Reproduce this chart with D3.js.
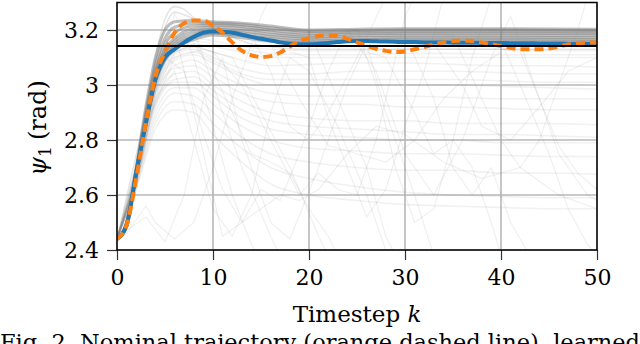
<!DOCTYPE html>
<html>
<head>
<meta charset="utf-8">
<script src="https://cdn.jsdelivr.net/npm/d3@7"></script>
<style>
  body { margin: 0; background: #fff; }
  text { font-family: "DejaVu Serif", "Liberation Serif", serif; fill: #000; }
</style>
</head>
<body>
<div id="chart"></div>
<script>
var svgWidth = 640;
var svgHeight = 344;

var margin = { top: 2.5, right: 43, bottom: 94, left: 117 };
var width = svgWidth - margin.left - margin.right;
var height = svgHeight - margin.top - margin.bottom;

// nominal trajectory (orange dashed) and learned mean (blue), k = 0..50
var nominal = [2.44, 2.49, 2.66, 2.86, 3.03, 3.12, 3.19, 3.225, 3.235, 3.235,
  3.215, 3.19, 3.155, 3.125, 3.108, 3.102, 3.105, 3.118, 3.14, 3.16,
  3.17, 3.178, 3.18, 3.178, 3.168, 3.155, 3.143, 3.132, 3.124, 3.12,
  3.122, 3.13, 3.138, 3.148, 3.155, 3.16, 3.162, 3.16, 3.155, 3.148,
  3.142, 3.135, 3.13, 3.13, 3.13, 3.133, 3.14, 3.147, 3.152, 3.154, 3.155];

var learned = [2.44, 2.49, 2.68, 2.86, 3.02, 3.10, 3.13, 3.155, 3.175, 3.19,
  3.195, 3.193, 3.19, 3.183, 3.175, 3.168, 3.162, 3.155, 3.15, 3.148,
  3.148, 3.15, 3.153, 3.156, 3.159, 3.16, 3.16, 3.159, 3.158, 3.157,
  3.156, 3.156, 3.155, 3.155, 3.155, 3.154, 3.154, 3.154, 3.153, 3.153,
  3.153, 3.152, 3.152, 3.152, 3.151, 3.151, 3.151, 3.15, 3.15, 3.15, 3.15];

var reference = Math.PI;

// dense band of sampled trajectories
var bandK = [0, 1, 2, 3, 4, 5, 6, 8, 10, 13, 16, 20, 25, 30, 40, 50];
var bandRuns = [
  [2.44, 2.50, 2.70, 2.92, 3.10, 3.20, 3.23, 3.235, 3.23, 3.225, 3.215, 3.2, 3.203, 3.205, 3.205, 3.203],
  [2.44, 2.50, 2.69, 2.90, 3.07, 3.17, 3.21, 3.225, 3.225, 3.22, 3.208, 3.195, 3.198, 3.2, 3.2, 3.198],
  [2.44, 2.50, 2.69, 2.89, 3.05, 3.15, 3.19, 3.215, 3.218, 3.213, 3.2, 3.188, 3.192, 3.194, 3.194, 3.192],
  [2.44, 2.49, 2.68, 2.88, 3.04, 3.13, 3.17, 3.205, 3.21, 3.205, 3.192, 3.181, 3.186, 3.188, 3.188, 3.186],
  [2.44, 2.49, 2.68, 2.87, 3.03, 3.12, 3.16, 3.195, 3.203, 3.197, 3.184, 3.174, 3.179, 3.181, 3.181, 3.179],
  [2.44, 2.49, 2.67, 2.86, 3.02, 3.11, 3.15, 3.185, 3.196, 3.189, 3.176, 3.167, 3.172, 3.174, 3.174, 3.172],
  [2.44, 2.49, 2.67, 2.86, 3.02, 3.10, 3.14, 3.175, 3.189, 3.18, 3.168, 3.16, 3.165, 3.167, 3.167, 3.165],
  [2.44, 2.49, 2.67, 2.85, 3.01, 3.09, 3.13, 3.165, 3.182, 3.172, 3.16, 3.155, 3.159, 3.161, 3.161, 3.159]
];

// overshooting runs that peak near k = 6
var spikeRuns = [
  [[0, 2.44], [2, 2.7], [4, 3.1], [5, 3.24], [6, 3.285], [7, 3.275], [8, 3.245], [10, 3.22], [13, 3.215], [16, 3.205], [20, 3.195], [30, 3.2], [50, 3.2]],
  [[0, 2.44], [2, 2.7], [4, 3.08], [5, 3.21], [6, 3.265], [7, 3.255], [9, 3.22], [11, 3.19], [14, 3.15], [20, 3.13], [50, 3.13]]
];

// light fan of slower runs, k at fanK
var fanK = [0, 2, 4, 6, 8, 10, 13, 16, 20, 25, 30, 35, 40, 45, 50];
var fanRuns = [
  [2.44, 2.68, 3.02, 3.15, 3.17, 3.16, 3.14, 3.13, 3.125, 3.125, 3.13, 3.13, 3.13, 3.125, 3.125],
  [2.44, 2.68, 3.01, 3.14, 3.16, 3.15, 3.13, 3.115, 3.11, 3.11, 3.115, 3.115, 3.11, 3.11, 3.11],
  [2.44, 2.68, 3.0, 3.13, 3.15, 3.14, 3.12, 3.1, 3.1, 3.1, 3.1, 3.1, 3.1, 3.1, 3.1],
  [2.44, 2.67, 2.99, 3.12, 3.14, 3.12, 3.09, 3.07, 3.075, 3.08, 3.08, 3.075, 3.07, 3.07, 3.065],
  [2.44, 2.67, 2.98, 3.11, 3.13, 3.1, 3.06, 3.04, 3.04, 3.05, 3.05, 3.05, 3.045, 3.04, 3.04],
  [2.44, 2.67, 2.98, 3.1, 3.12, 3.09, 3.04, 3.02, 3.02, 3.02, 3.02, 3.02, 3.015, 3.01, 3.01],
  [2.44, 2.66, 2.97, 3.09, 3.11, 3.08, 3.03, 3.0, 3.0, 3.0, 3.0, 3.0, 2.995, 2.99, 2.985],
  [2.44, 2.66, 2.96, 3.07, 3.09, 3.05, 3.0, 2.97, 2.96, 2.96, 2.96, 2.955, 2.95, 2.95, 2.95],
  [2.44, 2.66, 2.95, 3.06, 3.07, 3.03, 2.97, 2.94, 2.93, 2.93, 2.92, 2.92, 2.915, 2.91, 2.91],
  [2.44, 2.65, 2.94, 3.04, 3.05, 3.0, 2.94, 2.9, 2.88, 2.87, 2.87, 2.86, 2.86, 2.86, 2.855],
  [2.44, 2.65, 2.93, 3.02, 3.03, 2.98, 2.91, 2.87, 2.85, 2.84, 2.83, 2.82, 2.82, 2.815, 2.81],
  [2.44, 2.65, 2.92, 3.01, 3.01, 2.96, 2.88, 2.84, 2.82, 2.81, 2.8, 2.8, 2.79, 2.79, 2.79],
  [2.44, 2.64, 2.9, 2.99, 2.99, 2.93, 2.85, 2.8, 2.77, 2.76, 2.75, 2.75, 2.745, 2.74, 2.74],
  [2.44, 2.64, 2.88, 2.97, 2.96, 2.9, 2.81, 2.75, 2.72, 2.7, 2.69, 2.69, 2.68, 2.68, 2.675],
  [2.44, 2.63, 2.86, 2.94, 2.93, 2.86, 2.77, 2.7, 2.66, 2.63, 2.61, 2.6, 2.595, 2.59, 2.59],
  [2.44, 2.62, 2.84, 2.91, 2.9, 2.82, 2.72, 2.64, 2.6, 2.58, 2.565, 2.56, 2.555, 2.55, 2.55]
];

// erratic runs, [k, value] pairs
var zigzagRuns = [
  [[0, 2.44], [2, 2.62], [4, 2.98], [6, 3.26], [8, 3.1], [10, 2.85], [12, 2.6], [14, 2.42], [15, 2.36]],
  [[0, 2.44], [1, 2.47], [3, 2.52], [5, 2.43], [7, 2.6], [9, 2.95], [11, 3.1], [13, 2.8], [16, 2.5], [18, 2.44], [21, 2.7], [24, 3.0], [26, 3.15], [28, 2.9], [31, 2.6], [33, 2.38]],
  [[0, 2.44], [2, 2.7], [4, 3.05], [6, 3.2], [8, 2.9], [10, 2.6], [11, 2.45], [13, 2.5], [15, 2.62], [17, 2.58], [19, 2.75], [22, 3.05], [24, 3.2], [27, 3.05], [30, 2.75], [33, 2.6], [36, 2.8], [39, 3.1], [41, 3.25], [43, 3.05], [46, 2.75], [49, 2.6], [50, 2.58]],
  [[0, 2.44], [3, 2.9], [5, 3.15], [7, 3.22], [8, 3.2], [10, 3.0], [13, 2.7], [16, 2.45], [17, 2.38]],
  [[0, 2.44], [3, 2.85], [5, 3.1], [8, 3.15], [10, 3.05], [12, 2.9], [14, 2.75], [16, 2.72], [18, 2.68], [20, 2.55], [22, 2.45], [23, 2.38]],
  [[0, 2.44], [3, 2.9], [6, 3.12], [8, 3.14], [10, 3.12], [13, 3.0], [16, 2.8], [19, 2.6], [21, 2.68], [23, 2.62], [25, 2.6], [27, 2.8], [29, 3.1], [30, 3.25], [31, 3.32]],
  [[0, 2.44], [3, 2.85], [6, 3.1], [9, 3.13], [12, 3.1], [15, 2.9], [18, 2.7], [21, 2.45], [22, 2.38]],
  [[18, 3.19], [20, 3.2], [23, 2.95], [26, 2.7], [28, 2.45], [29, 2.38]],
  [[23, 3.19], [25, 3.2], [27, 3.0], [29, 2.7], [31, 2.5], [33, 2.55], [35, 2.8], [37, 3.1], [39, 3.32]],
  [[28, 3.19], [30, 3.18], [33, 2.95], [35, 2.7], [37, 2.6], [39, 2.7], [41, 2.5], [43, 2.38]],
  [[33, 3.19], [35, 3.18], [38, 2.95], [40, 2.8], [42, 2.7], [44, 2.8], [46, 3.0], [48, 3.2], [49, 3.32]],
  [[38, 3.16], [40, 3.16], [42, 3.0], [45, 2.75], [47, 2.55], [49, 2.42], [50, 2.38]],
  [[12, 3.2], [14, 3.18], [16, 3.05], [18, 2.85], [20, 2.8], [22, 2.9], [25, 3.1], [28, 3.32]],
  [[18, 3.12], [20, 3.1], [22, 2.88], [24, 2.7], [26, 2.52], [28, 2.62], [30, 2.85], [32, 3.05], [34, 3.32]],
  [[26, 3.12], [28, 3.1], [31, 2.9], [33, 2.75], [35, 2.8], [37, 2.7], [39, 2.5], [40, 2.38]],
  [[40, 3.13], [42, 3.12], [44, 2.95], [46, 2.78], [48, 2.68], [50, 2.62]],
  [[14, 3.16], [16, 3.15], [19, 2.95], [22, 2.78], [25, 2.75], [28, 2.72], [31, 2.8], [34, 2.95], [37, 3.05], [40, 3.12]],
  [[31, 3.16], [33, 3.15], [36, 3.0], [38, 2.85], [41, 2.8], [44, 2.92], [47, 3.05], [50, 3.1]],
  [[0, 2.44], [2, 2.66], [4, 2.95], [6, 3.05], [8, 2.8], [10, 2.55], [12, 2.45], [14, 2.6], [16, 2.9], [18, 3.1], [20, 3.05], [23, 2.85], [26, 2.6], [28, 2.4]],
  [[0, 2.44], [1, 2.46], [3, 2.56], [4, 2.5], [6, 2.44], [8, 2.5], [10, 2.7], [12, 2.95], [14, 3.15], [15, 3.25], [16, 3.32]],
  [[5, 3.1], [7, 3.05], [9, 2.82], [11, 2.62], [13, 2.5], [15, 2.55], [17, 2.6], [19, 2.58], [21, 2.62], [24, 2.75], [27, 2.85], [30, 2.82], [34, 2.72], [38, 2.66], [42, 2.7], [46, 2.6], [50, 2.55]]
];

var xTicks = [0, 10, 20, 30, 40, 50];
var yTicks = [2.4, 2.6, 2.8, 3.0, 3.2];

var svg = d3.select("#chart")
  .append("svg")
  .attr("width", svgWidth)
  .attr("height", svgHeight);

var x = d3.scaleLinear().domain([0, 50]).range([margin.left, margin.left + width]);
var y = d3.scaleLinear().domain([2.4, 3.3]).range([margin.top + height, margin.top]);

svg.append("clipPath")
  .attr("id", "plotclip")
  .append("rect")
  .attr("x", x(0))
  .attr("y", y(3.3))
  .attr("width", x(50) - x(0))
  .attr("height", y(2.4) - y(3.3));

// grid
svg.append("g")
  .selectAll("line")
  .data(xTicks)
  .enter()
  .append("line")
  .attr("x1", d => x(d)).attr("x2", d => x(d))
  .attr("y1", y(2.4)).attr("y2", y(3.3))
  .attr("stroke", "#b8b8b8")
  .attr("stroke-width", 1.6);

svg.append("g")
  .selectAll("line")
  .data(yTicks)
  .enter()
  .append("line")
  .attr("x1", x(0)).attr("x2", x(50))
  .attr("y1", d => y(d)).attr("y2", d => y(d))
  .attr("stroke", "#b8b8b8")
  .attr("stroke-width", 1.6);

var plot = svg.append("g").attr("clip-path", "url(#plotclip)");

var smooth = d3.line()
  .x(d => x(d[0]))
  .y(d => y(d[1]))
  .curve(d3.curveMonotoneX);

var straight = d3.line()
  .x(d => x(d[0]))
  .y(d => y(d[1]));

function pairs(ks, vals) {
  return ks.map((k, i) => [k, vals[i]]);
}

// faint runs
plot.selectAll("path.zig")
  .data(zigzagRuns)
  .enter()
  .append("path")
  .attr("d", straight)
  .attr("fill", "none")
  .attr("stroke", "#808080")
  .attr("stroke-opacity", 0.12)
  .attr("stroke-width", 1.2);

plot.selectAll("path.fan")
  .data(fanRuns)
  .enter()
  .append("path")
  .attr("d", d => smooth(pairs(fanK, d)))
  .attr("fill", "none")
  .attr("stroke", "#808080")
  .attr("stroke-opacity", 0.11)
  .attr("stroke-width", 1.6);

plot.selectAll("path.spike")
  .data(spikeRuns)
  .enter()
  .append("path")
  .attr("d", smooth)
  .attr("fill", "none")
  .attr("stroke", "#808080")
  .attr("stroke-opacity", 0.2)
  .attr("stroke-width", 1.6);

plot.selectAll("path.band")
  .data(bandRuns)
  .enter()
  .append("path")
  .attr("d", d => smooth(pairs(bandK, d)))
  .attr("fill", "none")
  .attr("stroke", "#808080")
  .attr("stroke-opacity", 0.5)
  .attr("stroke-width", 3);

// reference angle
svg.append("line")
  .attr("x1", x(0)).attr("x2", x(50))
  .attr("y1", y(reference)).attr("y2", y(reference))
  .attr("stroke", "#000")
  .attr("stroke-width", 2);

var series = d3.line()
  .x((d, i) => x(i))
  .y(d => y(d))
  .curve(d3.curveMonotoneX);

plot.append("path")
  .attr("d", series(learned))
  .attr("fill", "none")
  .attr("stroke", "#1f77b4")
  .attr("stroke-width", 4);

plot.append("path")
  .attr("d", series(nominal))
  .attr("fill", "none")
  .attr("stroke", "#ff7f0e")
  .attr("stroke-width", 4)
  .attr("stroke-dasharray", "9,5");

// axes
var xAxis = d3.axisBottom(x).tickValues(xTicks).tickSize(10).tickPadding(9).tickFormat(d3.format("d"));
var yAxis = d3.axisLeft(y).tickValues(yTicks).tickSize(10).tickPadding(8).tickFormat(d => d === 3 ? "3" : d3.format(".1f")(d));

var gx = svg.append("g")
  .attr("transform", `translate(0, ${y(2.4)})`)
  .call(xAxis);
var gy = svg.append("g")
  .attr("transform", `translate(${x(0)}, 0)`)
  .call(yAxis);

[gx, gy].forEach(function(g) {
  g.attr("font-family", null).attr("font-size", null);
  g.select(".domain").remove();
  g.selectAll(".tick line").attr("stroke", "#333").attr("stroke-width", 1.2);
  g.selectAll("text").attr("font-size", 22);
});

// frame
svg.append("rect")
  .attr("x", x(0))
  .attr("y", y(3.3))
  .attr("width", x(50) - x(0))
  .attr("height", y(2.4) - y(3.3))
  .attr("fill", "none")
  .attr("stroke", "#000")
  .attr("stroke-width", 1.5);

// labels
var xl = svg.append("text")
  .attr("x", x(25))
  .attr("y", 322)
  .attr("text-anchor", "middle")
  .attr("font-size", 23);
xl.append("tspan").text("Timestep ");
xl.append("tspan").attr("font-style", "italic").text("k");

var yl = svg.append("text")
  .attr("transform", `translate(46, 128) rotate(-90)`)
  .attr("text-anchor", "middle")
  .attr("font-size", 24);
yl.append("tspan").attr("font-style", "italic").text("ψ");
yl.append("tspan").attr("font-size", 17).attr("dy", 5).text("1");
yl.append("tspan").attr("dy", -5).attr("dx", 6).text("(rad)");

svg.append("text")
  .attr("x", 0)
  .attr("y", 350)
  .attr("font-size", 23)
  .attr("textLength", 640)
  .attr("lengthAdjust", "spacingAndGlyphs")
  .text("Fig. 2. Nominal trajectory (orange dashed line), learned");
</script>
</body>
</html>
